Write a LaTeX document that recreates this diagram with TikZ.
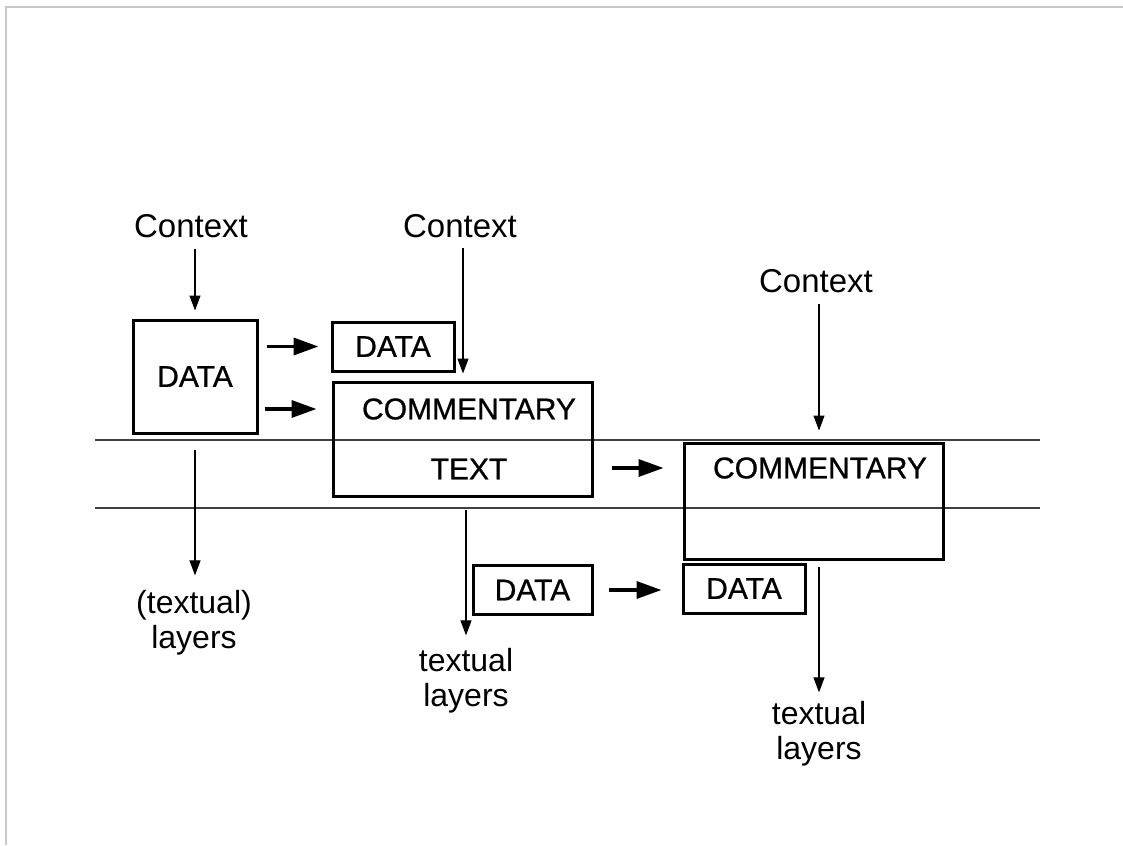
\documentclass[tikz,border=0pt]{standalone}
\usepackage{fontspec}
\setmainfont{Liberation Sans}
\newfontfamily\boxfont[FakeBold=0.8]{Liberation Sans}
\usetikzlibrary{arrows.meta,calc}
\begin{document}
\begin{tikzpicture}[x=1pt,y=-1pt,
  lbl/.style={font=\fontsize{32}{35}\selectfont, inner sep=0pt, align=center},
  ctxlbl/.style={font=\fontsize{33}{36}\selectfont, inner sep=0pt},
  btxt/.style={font=\boxfont\fontsize{30}{32}\selectfont, inner sep=0pt},
  boxnode/.style={draw, line width=3pt, rectangle, inner sep=0pt, font=\boxfont\fontsize{30}{32}\selectfont},
  thinarr/.style={line width=1.1pt, -{Triangle[length=15pt,width=11pt]}},
  boldarr/.style={line width=3.5pt, -{Triangle[length=25pt,width=17pt]}},
  hline/.style={line width=1.3pt, black!75},
  frame/.style={line width=2pt, black!22}]
\useasboundingbox (0,0) rectangle (1123,845);
\draw[frame] (6,845) -- (6,7) -- (1123,7);

% layer lines
\coordinate (l1a) at (95,440); \coordinate (l1b) at (1040,440);
\coordinate (l2a) at (95,508); \coordinate (l2b) at (1040,508);
\draw[hline] (l1a) -- (l1b);
\draw[hline] (l2a) -- (l2b);

% boxes
\node[boxnode, minimum width=124pt, minimum height=113pt] (data1) at (195,376.5) {DATA};
\node[boxnode, minimum width=122pt, minimum height=49pt] (data2) at (393,346.5) {DATA};
\node[boxnode, minimum width=259pt, minimum height=114pt] (comm1) at (462.5,439) {};
\node[btxt] (c1a) at (469,409) {COMMENTARY};
\node[btxt] (c1b) at (469,469) {TEXT};
\node[boxnode, minimum width=259pt, minimum height=116pt] (comm2) at (813.5,501) {};
\node[btxt] (c2a) at (820,468) {COMMENTARY};
\node[boxnode, minimum width=119pt, minimum height=49pt] (data3) at (532.5,590) {DATA};
\node[boxnode, minimum width=122pt, minimum height=49pt] (data4) at (744,588.5) {DATA};

% labels
\node[ctxlbl] (ctx1) at (191,226) {Context};
\node[ctxlbl] (ctx2) at (460,226) {Context};
\node[ctxlbl] (ctx3) at (816,281) {Context};
\node[lbl] (lab1) at (194,623) {(textual)\\layers};
\node[lbl] (lab2) at (466,681) {textual\\layers};
\node[lbl] (lab3) at (819,734) {textual\\layers};

% context arrows
\draw[thinarr, shorten <=11pt, shorten >=8pt] (ctx1.south -| data1.north) -- (data1.north);
\draw[thinarr, shorten <=10pt, shorten >=7pt] ([xshift=3pt]ctx2.south) -- ([xshift=3pt]ctx2.south |- comm1.north);
\draw[thinarr, shorten <=11pt, shorten >=11pt] ([xshift=3pt]ctx3.south) -- ([xshift=3pt]ctx3.south |- comm2.north);

% layer arrows
\draw[thinarr, shorten <=15pt, shorten >=15pt] (data1.south) -- (data1.south |- lab1.north);
\draw[thinarr, shorten <=12pt, shorten >=13pt] (lab2.north |- comm1.south) -- (lab2.north);
\draw[thinarr, shorten <=6pt, shorten >=9pt] (lab3.north |- comm2.south) -- (lab3.north);

% bold arrows
\draw[boldarr, shorten <=8pt, shorten >=12pt] (data1.east |- data2.west) -- (data2.west);
\draw[boldarr, shorten <=6pt, shorten >=15pt] (data1.east |- c1a) -- (comm1.west |- c1a);
\draw[boldarr, shorten <=18pt, shorten >=19pt] (comm1.east |- c2a) -- (comm2.west |- c2a);
\draw[boldarr, shorten <=15pt, shorten >=20pt] (data3.east) -- (data4.west |- data3.east);
\end{tikzpicture}
\end{document}
